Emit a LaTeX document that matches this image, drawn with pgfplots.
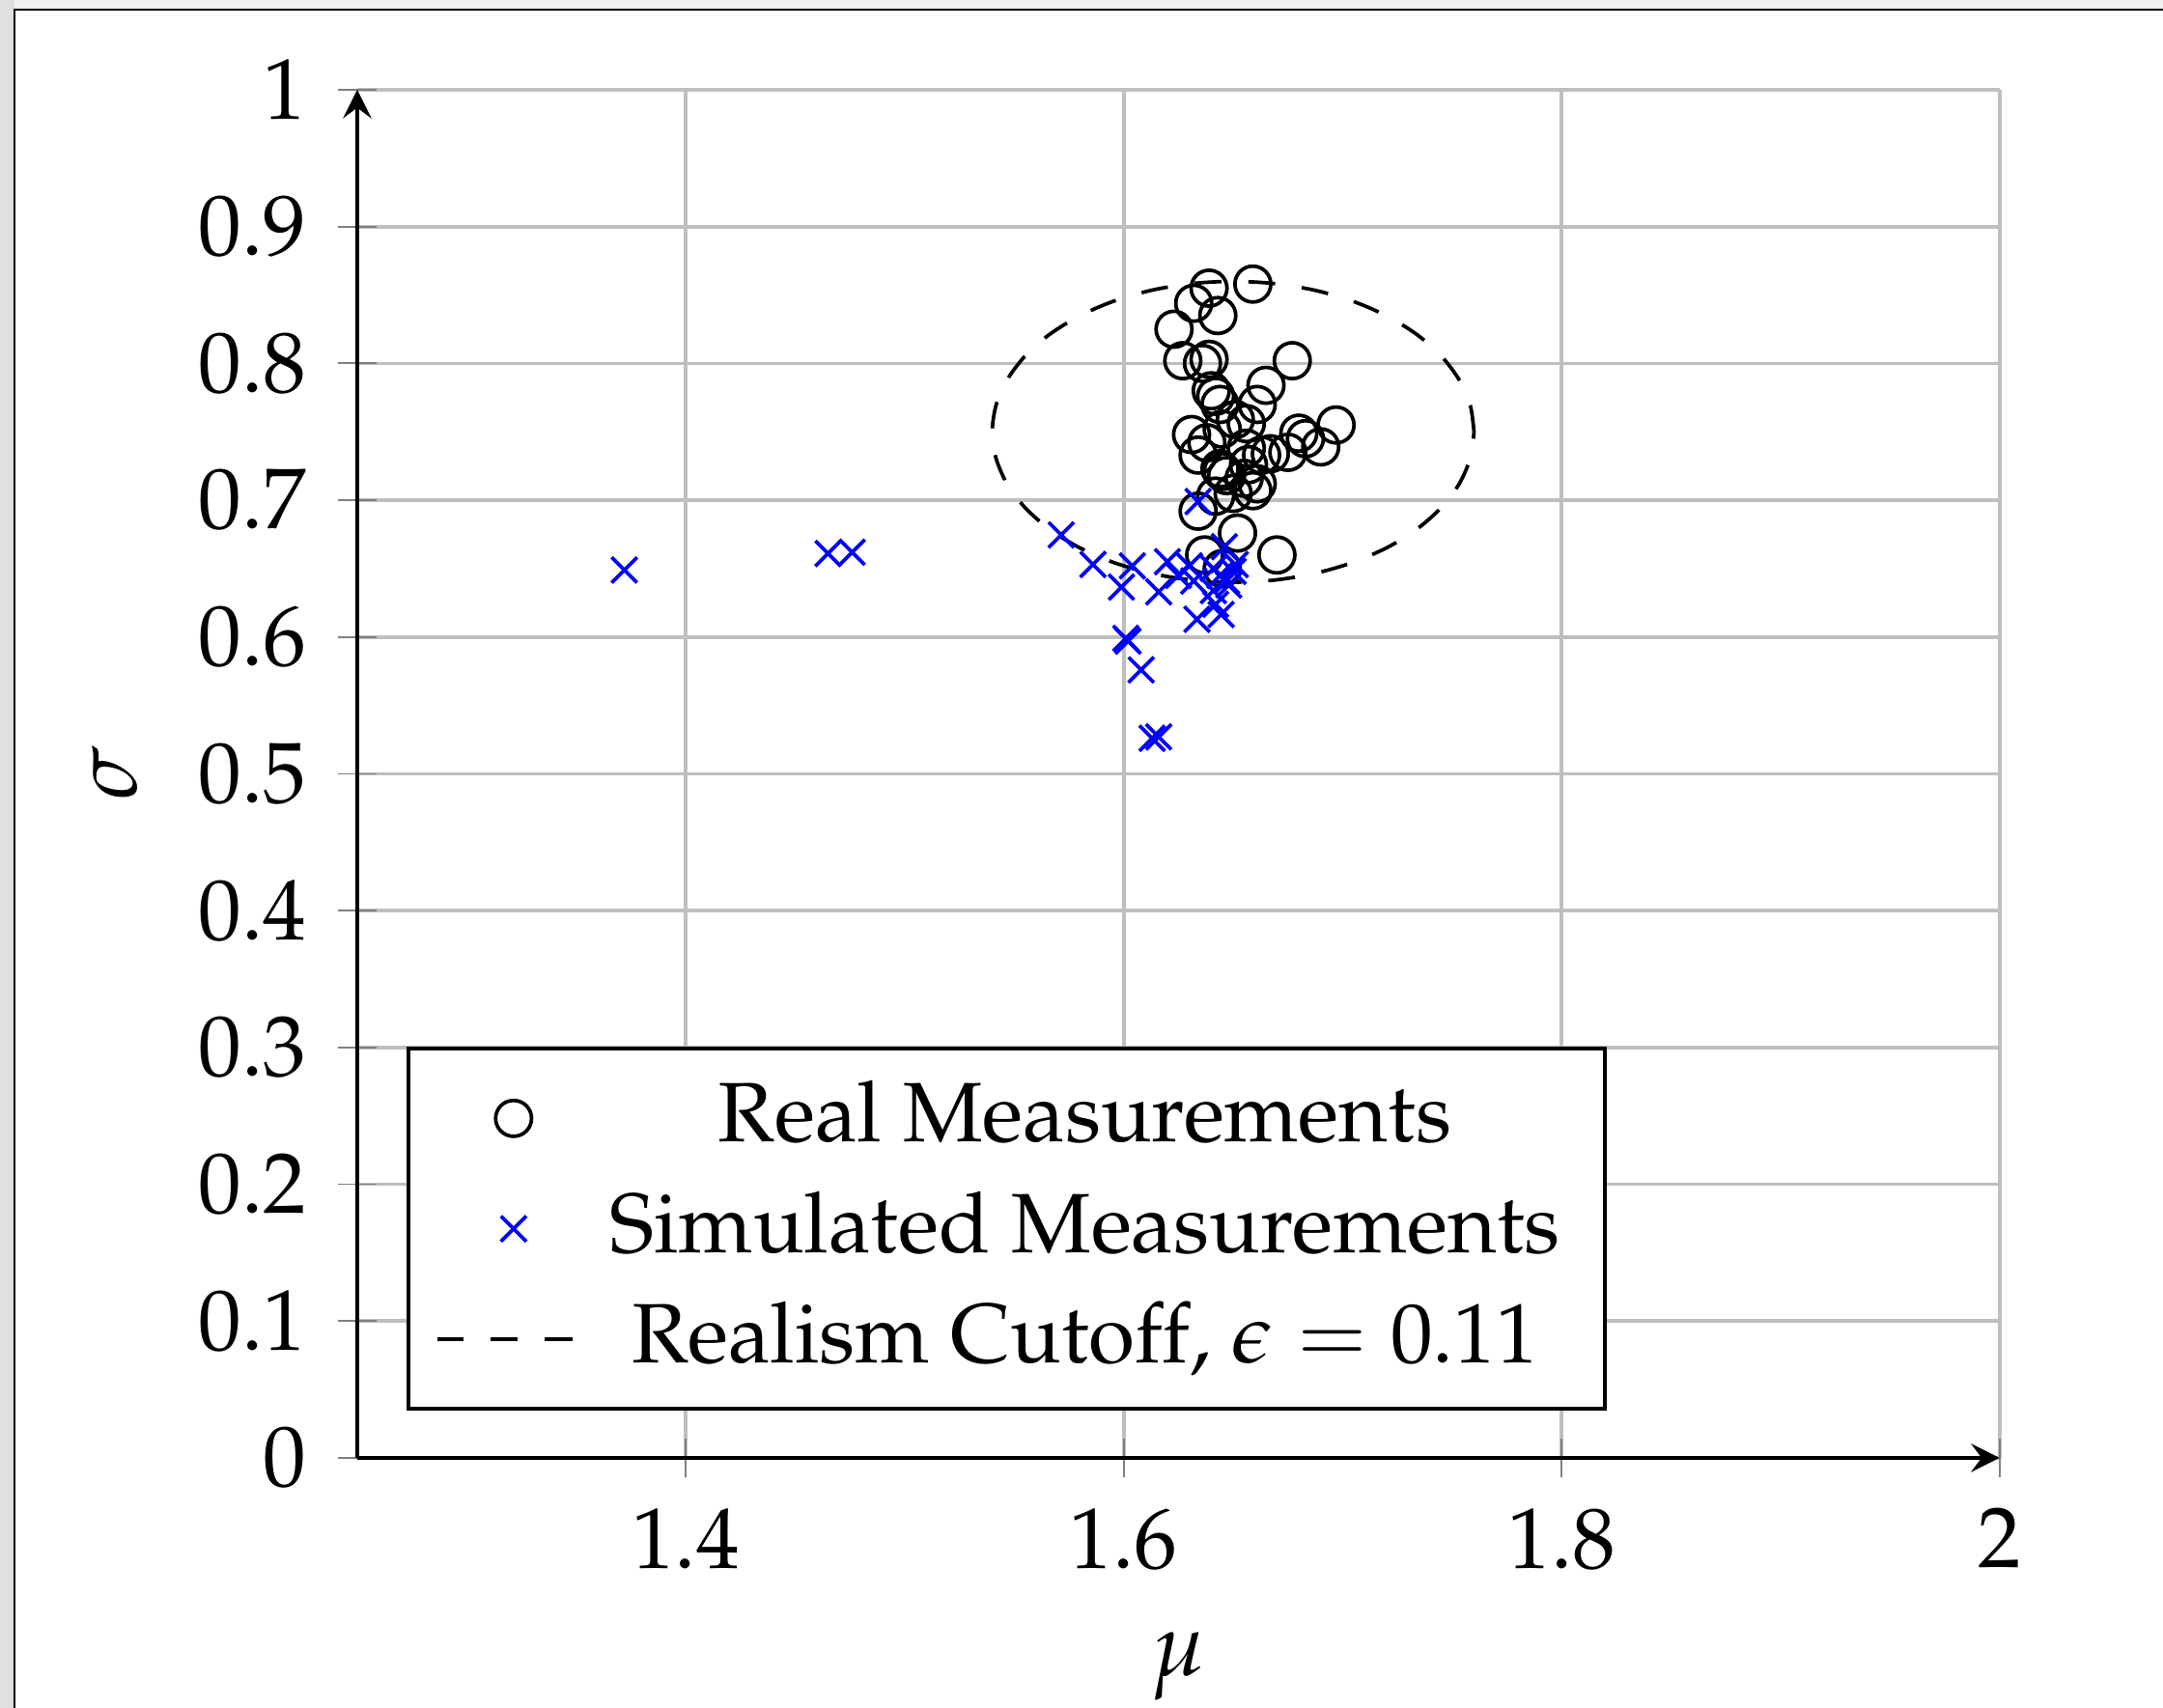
\documentclass[border=0pt]{standalone}
\usepackage[T1]{fontenc}
\usepackage{mathpazo}
\usepackage{pgfplots}
\pgfplotsset{compat=1.18}
\begin{document}
\begin{tikzpicture}
\begin{axis}[
  at={(0pt,0pt)}, anchor=south west,
  scale only axis, width=183pt, height=152.44pt,
  xmin=1.25, xmax=2, ymin=0, ymax=1,
  axis lines=left, tick align=center,
  xtick={1.4,1.6,1.8,2},
  ytick={0,0.1,0.2,0.3,0.4,0.5,0.6,0.7,0.8,0.9,1},
  tick label style={font=\fontsize{9.6pt}{11.5pt}\selectfont},
  grid=major,
  xlabel={$\mu$}, ylabel={$\sigma$},
  legend cell align=center,
  legend style={at={(0.030,0.0346)}, anchor=south west, draw=black, fill=white,
    font=\fontsize{9.4pt}{11.2pt}\selectfont, inner ysep=1.6pt},
  clip=false,
]
\addplot[only marks, mark=o, black] coordinates {
(1.639,0.855) (1.659,0.858) (1.632,0.844) (1.643,0.835) (1.623,0.825)
(1.627,0.802) (1.639,0.803) (1.636,0.800) (1.677,0.802) (1.665,0.784)
(1.640,0.780) (1.642,0.776) (1.644,0.770) (1.661,0.770) (1.651,0.759)
(1.656,0.756) (1.631,0.748) (1.697,0.755) (1.645,0.752) (1.638,0.742)
(1.634,0.733) (1.680,0.749) (1.683,0.745) (1.690,0.739) (1.675,0.735)
(1.667,0.734) (1.663,0.733) (1.656,0.738) (1.645,0.721) (1.647,0.718)
(1.644,0.723) (1.657,0.726) (1.659,0.707) (1.661,0.712) (1.655,0.716)
(1.642,0.703) (1.634,0.692) (1.652,0.676) (1.670,0.660) (1.637,0.660)
(1.645,0.650) (1.650,0.705)
};
\addlegendentry{Real Measurements}
\addplot[only marks, mark=x, blue] coordinates {
(1.372,0.649) (1.465,0.661) (1.476,0.662) (1.5715,0.6746) (1.586,0.653)
(1.604,0.652) (1.599,0.6365) (1.620,0.655) (1.616,0.633) (1.625,0.645)
(1.630,0.652) (1.632,0.641) (1.634,0.699) (1.646,0.666) (1.641,0.650)
(1.647,0.641) (1.651,0.653) (1.641,0.634) (1.642,0.624) (1.6335,0.613)
(1.6445,0.6165) (1.601,0.599) (1.602,0.597) (1.608,0.576) (1.613,0.526)
(1.616,0.527) (1.648,0.638) (1.644,0.645) (1.650,0.648)
};
\addlegendentry{Simulated Measurements}
\addplot[black, dashed, smooth, no markers] coordinates {
(1.76,0.75) (1.75833,0.76910) (1.75337,0.78762) (1.74526,0.805) (1.73426,0.82071)
(1.72071,0.83426) (1.705,0.84526) (1.68762,0.85337) (1.66910,0.85833) (1.65,0.86)
(1.63090,0.85833) (1.61238,0.85337) (1.595,0.84526) (1.57929,0.83426) (1.56574,0.82071)
(1.55474,0.805) (1.54663,0.78762) (1.54167,0.76910) (1.54,0.75) (1.54167,0.73090)
(1.54663,0.71238) (1.55474,0.695) (1.56574,0.67929) (1.57929,0.66574) (1.595,0.65474)
(1.61238,0.64663) (1.63090,0.64167) (1.65,0.64) (1.66910,0.64167) (1.68762,0.64663)
(1.705,0.65474) (1.72071,0.66574) (1.73426,0.67929) (1.74526,0.695) (1.75337,0.71238)
(1.75833,0.73090) (1.76,0.75)
};
\addlegendentry{Realism Cutoff, $\epsilon = 0.11$}
\end{axis}
\pgfresetboundingbox
\path[use as bounding box] (-39.8pt,-27.86pt) rectangle (201.2pt,162.45pt);
\fill[black!12] (-39.8pt,-27.86pt) rectangle (-38.2pt,162.45pt);
\fill[black!5] (-38.2pt,161.37pt) rectangle (201.2pt,162.45pt);
\draw[line width=0.25pt] (-38.2pt,-27.86pt) -- (-38.2pt,161.37pt) -- (201.2pt,161.37pt);
\end{tikzpicture}
\end{document}
